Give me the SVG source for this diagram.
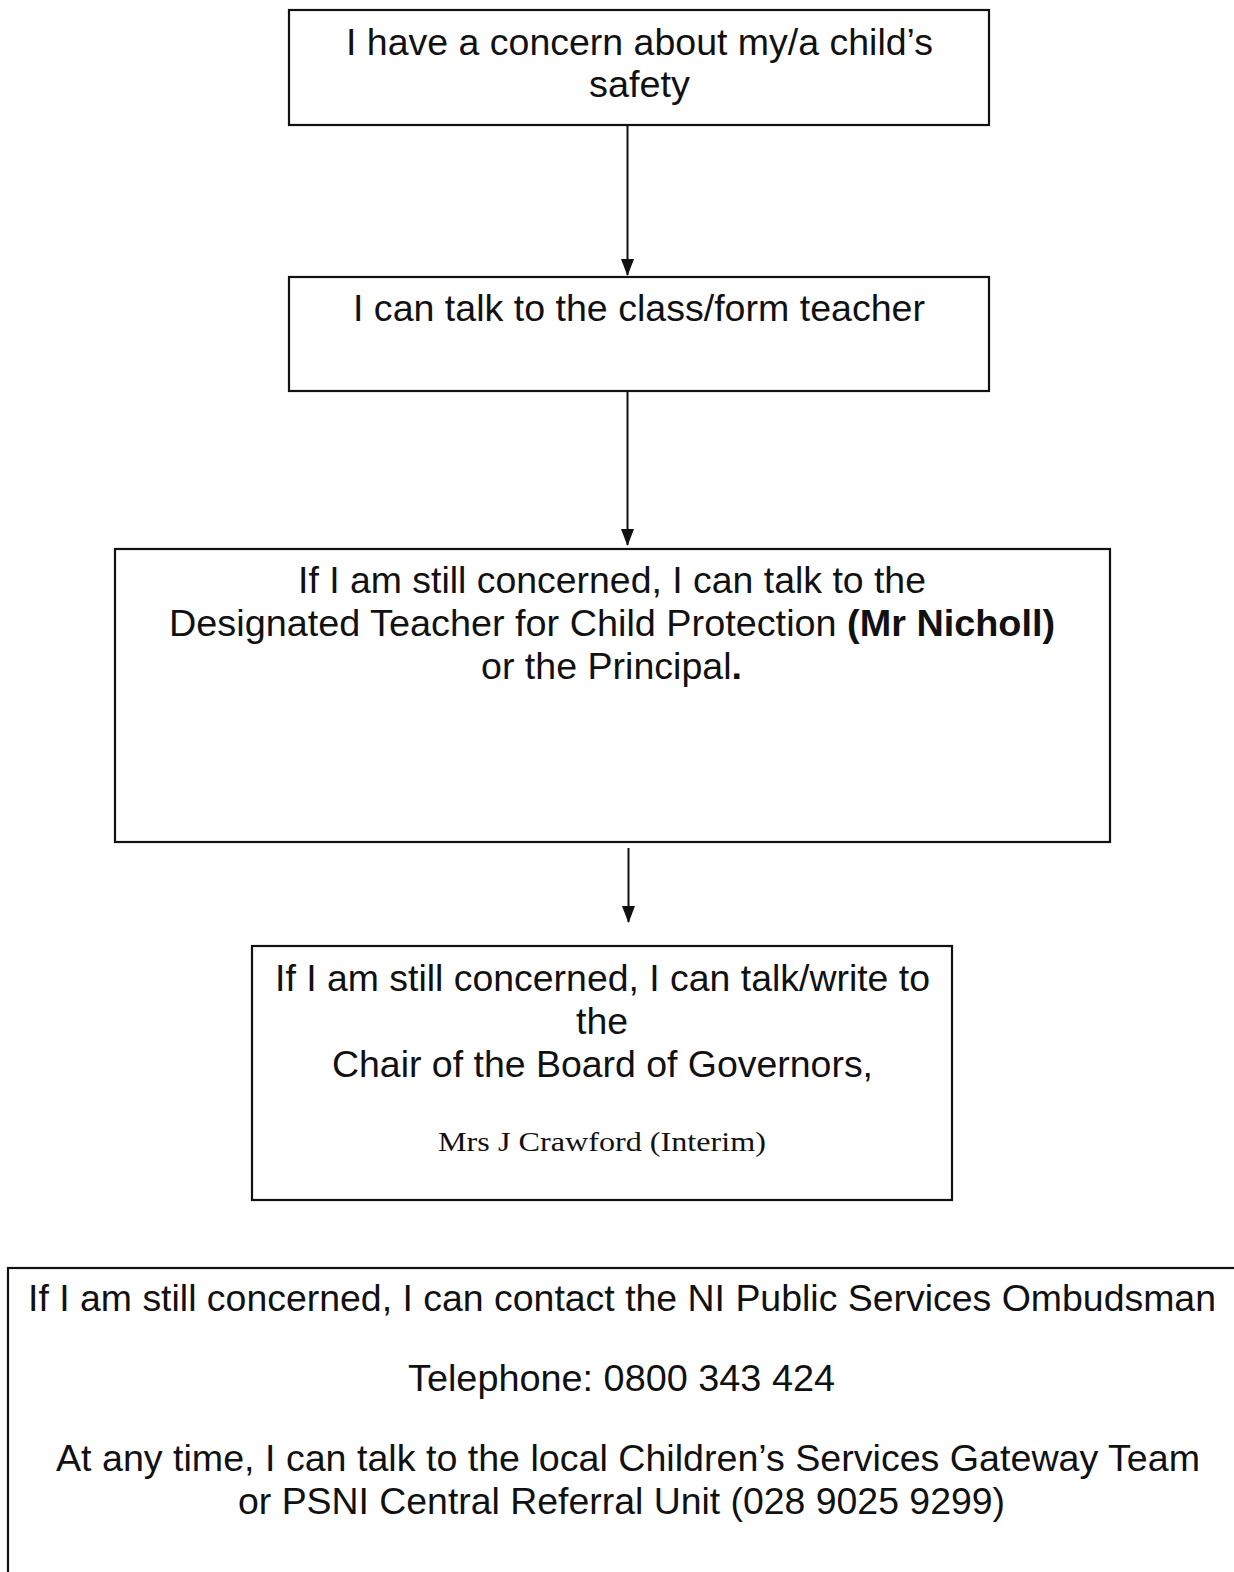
<svg xmlns="http://www.w3.org/2000/svg" width="1234" height="1572" viewBox="0 0 1234 1572">
<style>
  .box { fill: #ffffff; stroke: #111111; stroke-width: 2.2; }
  .t { font-family: "Liberation Sans", Arial, sans-serif; font-size: 36px; fill: #111111; }
  .b { font-weight: bold; }
  .s { font-family: "Liberation Serif", "Times New Roman", serif; font-size: 27px; fill: #111111; }
  .edge { stroke: #111111; stroke-width: 2; fill: none; marker-end: url(#arrow); }
</style>
<defs>
  <marker id="arrow" markerUnits="userSpaceOnUse" markerWidth="17" markerHeight="13" viewBox="0 0 17 13" refX="16" refY="6.5" orient="auto">
    <path d="M0,0 L17,6.5 L0,13 Z" fill="#111111"/>
  </marker>
</defs>
<rect width="1234" height="1572" fill="#ffffff"/>

<g id="connectors">
  <line class="edge" x1="627.5" y1="125" x2="627.5" y2="275"/>
  <line class="edge" x1="627.5" y1="391" x2="627.5" y2="545"/>
  <line class="edge" x1="628.5" y1="848" x2="628.5" y2="922"/>
</g>

<g id="node1">
  <rect class="box" x="289" y="10" width="700" height="115"/>
  <text class="t" x="346" y="55" textLength="587" lengthAdjust="spacingAndGlyphs">I have a concern about my/a child’s</text>
  <text class="t" x="589" y="97" textLength="101" lengthAdjust="spacingAndGlyphs">safety</text>
</g>

<g id="node2">
  <rect class="box" x="289" y="277" width="700" height="114"/>
  <text class="t" x="353" y="321" textLength="572" lengthAdjust="spacingAndGlyphs">I can talk to the class/form teacher</text>
</g>

<g id="node3">
  <rect class="box" x="115" y="549" width="995" height="293"/>
  <text class="t" x="298" y="593" textLength="628" lengthAdjust="spacingAndGlyphs">If I am still concerned, I can talk to the</text>
  <text class="t" x="169" y="636" textLength="886" lengthAdjust="spacingAndGlyphs">Designated Teacher for Child Protection <tspan class="b">(Mr Nicholl)</tspan></text>
  <text class="t" x="481" y="679" textLength="261" lengthAdjust="spacingAndGlyphs">or the Principal<tspan class="b">.</tspan></text>
</g>

<g id="node4">
  <rect class="box" x="252" y="946" width="700" height="254"/>
  <text class="t" x="275" y="991" textLength="655" lengthAdjust="spacingAndGlyphs">If I am still concerned, I can talk/write to</text>
  <text class="t" x="576" y="1034" textLength="52" lengthAdjust="spacingAndGlyphs">the</text>
  <text class="t" x="332" y="1077" textLength="541" lengthAdjust="spacingAndGlyphs">Chair of the Board of Governors,</text>
  <text class="s" x="438" y="1151" textLength="328" lengthAdjust="spacingAndGlyphs">Mrs J Crawford (Interim)</text>
</g>

<g id="node5">
  <rect class="box" x="8" y="1268" width="1240" height="400"/>
  <text class="t" x="28" y="1311" textLength="1188" lengthAdjust="spacingAndGlyphs">If I am still concerned, I can contact the NI Public Services Ombudsman</text>
  <text class="t" x="408" y="1391" textLength="427" lengthAdjust="spacingAndGlyphs">Telephone: 0800 343 424</text>
  <text class="t" x="56" y="1471" textLength="1144" lengthAdjust="spacingAndGlyphs">At any time, I can talk to the local Children’s Services Gateway Team</text>
  <text class="t" x="238" y="1514" textLength="767" lengthAdjust="spacingAndGlyphs">or PSNI Central Referral Unit (028 9025 9299)</text>
</g>
</svg>
